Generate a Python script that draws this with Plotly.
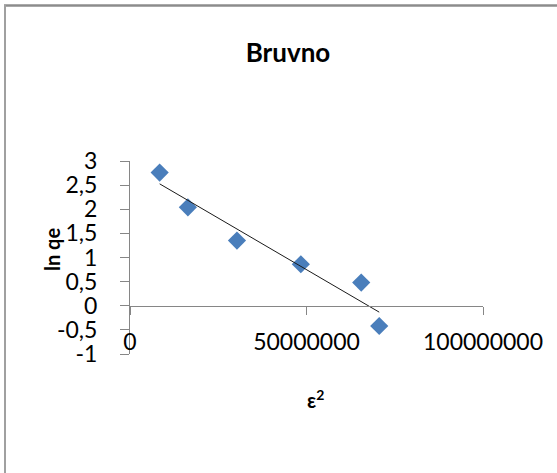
import numpy as np
import plotly.graph_objects as go

# ---- data ----
eps2 = [8.4e6, 16.4e6, 30.3e6, 48.4e6, 65.5e6, 70.6e6]
ln_qe = [2.76, 2.04, 1.35, 0.86, 0.48, -0.42]

x_tickvals = [0, 50000000, 100000000]
x_ticktext = ["0", "50000000", "100000000"]
y_tickvals = [-1, -0.5, 0, 0.5, 1, 1.5, 2, 2.5, 3]
y_ticktext = ["-1", "-0,5", "0", "0,5", "1", "1,5", "2", "2,5", "3"]

title_text = "Bruvno"
y_title = "ln qe"
x_title = "ε<sup>2</sup>"

# linear trendline (least squares over the data)
slope, intercept = np.polyfit(eps2, ln_qe, 1)
trend_x = [min(eps2), max(eps2)]
trend_y = [slope * v + intercept for v in trend_x]

W, H = 557, 473
L, R, T, B = 130, 74, 161, 119
PW, PH = W - L - R, H - T - B


def px(xp):
    return (xp - L) / PW


def py(yp):
    return (H - B - yp) / PH


FONT = "Lato, 'Open Sans', sans-serif"
AXC = "#868686"

fig = go.Figure()
fig.add_trace(go.Scatter(
    x=trend_x, y=trend_y, mode="lines", xaxis="x2", yaxis="y",
    line=dict(color="#1a1a1a", width=1), showlegend=False, hoverinfo="skip"))
fig.add_trace(go.Scatter(
    x=eps2, y=ln_qe, mode="markers",
    marker=dict(symbol="diamond", size=14, color="#4A7EBB", line=dict(width=0)),
    showlegend=False, cliponaxis=False))

xr = [0, 100000000]
fig.update_layout(
    width=W, height=H,
    margin=dict(l=L, r=R, t=T, b=B, autoexpand=False),
    paper_bgcolor="white", plot_bgcolor="white",
    font=dict(family=FONT, color="#000000", size=22),
    title=dict(text=title_text, x=288 / W, xanchor="center", y=1 - 53 / H, yanchor="middle",
               font=dict(family=FONT, size=26, weight="bold", color="#000000")),
    xaxis=dict(range=xr, anchor="free", position=py(326), showline=False, zeroline=False,
               showgrid=False, ticks="", tickvals=x_tickvals, ticktext=x_ticktext,
               tickfont=dict(size=23, color="#000000")),
    xaxis2=dict(range=xr, overlaying="x", anchor="free", position=0.25, side="bottom",
                showline=True, linecolor=AXC, linewidth=1, zeroline=False, showgrid=False,
                ticks="outside", ticklen=8, tickcolor=AXC, tickwidth=1,
                tickvals=x_tickvals, showticklabels=False),
    yaxis=dict(range=[-1, 3], showline=True, linecolor=AXC, linewidth=1, zeroline=False,
               showgrid=False, ticks="outside", ticklen=9, tickcolor=AXC, tickwidth=1,
               tickvals=y_tickvals, ticktext=y_ticktext, ticklabelstandoff=18,
               tickfont=dict(size=23, color="#000000")),
    annotations=[
        dict(text=y_title, xref="paper", yref="paper", x=px(52), y=py(250),
             xanchor="center", yanchor="middle", textangle=-90, showarrow=False,
             font=dict(family=FONT, size=20, weight="bold", color="#000000")),
        dict(text=x_title, xref="paper", yref="paper", x=px(315), y=py(399),
             xanchor="center", yanchor="middle", showarrow=False,
             font=dict(family=FONT, size=20, weight="bold", color="#000000")),
    ],
    shapes=[
        dict(type="line", xref="paper", yref="paper", x0=px(4), x1=px(580), y0=py(5.5), y1=py(5.5),
             line=dict(color="#8c8c8c", width=2.5)),
        dict(type="line", xref="paper", yref="paper", x0=px(5), x1=px(5), y0=py(5), y1=py(500),
             line=dict(color="#a0a0a0", width=2)),
    ],
)

fig.write_html("out.html", config={"displayModeBar": False},
               post_script="document.body.style.margin='0';")
